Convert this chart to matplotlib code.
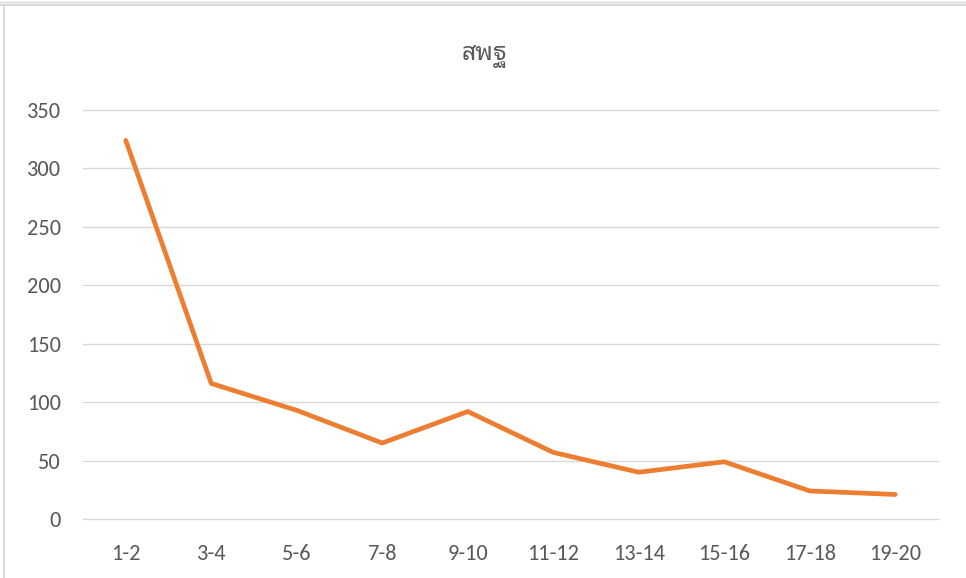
import matplotlib
matplotlib.use("Agg")
import matplotlib.pyplot as plt
from matplotlib import font_manager as fm
from matplotlib.lines import Line2D

categories = ["1-2", "3-4", "5-6", "7-8", "9-10", "11-12", "13-14", "15-16", "17-18", "19-20"]
values = [324, 116, 93, 65, 92, 57, 40, 49, 24, 21]
yticks = [0, 50, 100, 150, 200, 250, 300, 350]
title = "สพฐ"

names = {f.name for f in fm.fontManager.ttflist}
def pick(cands, default):
    for c in cands:
        if c in names:
            return c
    return default

latin = pick(["Carlito", "Open Sans", "Noto Sans"], "DejaVu Sans")
thai = pick(["Noto Sans Thai Looped", "Noto Sans Thai", "Sarabun", "Anuphan", "Athiti"], "DejaVu Sans")

text_color = "#595959"
grid_color = "#D9D9D9"
line_color = "#ED7D31"

fig = plt.figure(figsize=(9.66, 5.78), dpi=100)
ax = fig.add_axes([83/966, 1-519/578, (938-83)/966, (519-110)/578])

x = list(range(len(categories)))
ax.plot(x, values, color=line_color, lw=3.4, solid_capstyle="round", solid_joinstyle="round", zorder=3)

ax.set_xlim(-0.5, len(categories) - 0.5)
ax.set_ylim(0, 350)
ax.set_yticks(yticks)
ax.set_yticklabels([str(v) for v in yticks])
ax.set_xticks(x)
ax.set_xticklabels(categories)
for v in yticks:
    ax.axhline(v, color=grid_color, lw=1.0, zorder=1, clip_on=False)
for s in ax.spines.values():
    s.set_visible(False)
ax.tick_params(axis="both", length=0, labelsize=16, labelcolor=text_color)
ax.tick_params(axis="y", pad=16)
ax.tick_params(axis="x", pad=18)
for lab in ax.get_xticklabels() + ax.get_yticklabels():
    lab.set_family([latin, "DejaVu Sans"])

fig.text(484/966, 1-56/578, title, ha="center", va="center", fontsize=18,
         color=text_color, family=[thai, "DejaVu Sans"])

# chart frame remnants
fig.add_artist(Line2D([0, 1], [1-1.5/578, 1-1.5/578], color=grid_color, lw=1.0))
fig.add_artist(Line2D([0, 1], [1-4.5/578, 1-4.5/578], color=grid_color, lw=1.5))
fig.add_artist(Line2D([3.5/966, 3.5/966], [0, 1-4.5/578], color=grid_color, lw=1.5))

fig.savefig("out.png", dpi=100)
